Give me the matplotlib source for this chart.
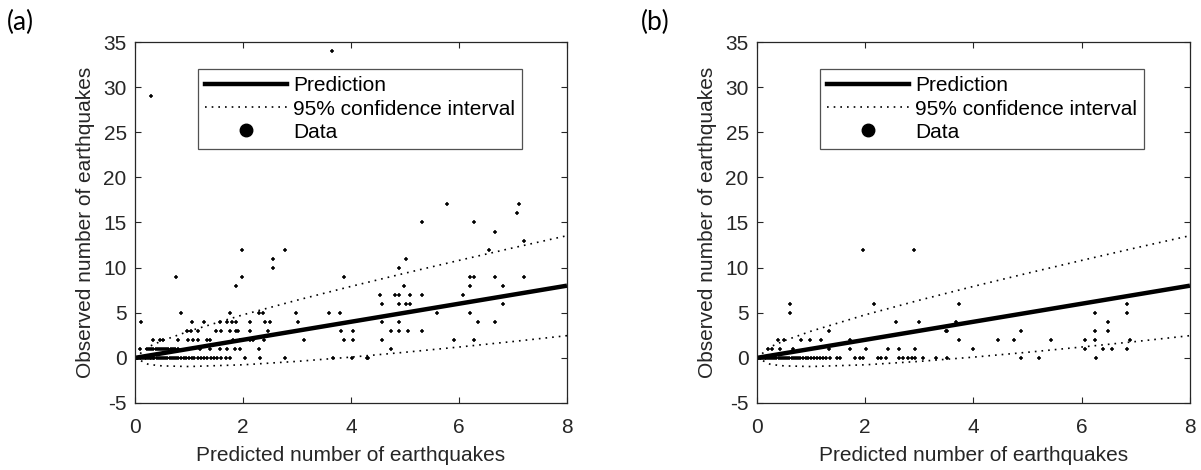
import matplotlib.pyplot as plt
from matplotlib.lines import Line2D

# ---- data ----
# panel (a): predicted vs observed counts
pred_a = [0.02, 0.04, 0.06, 0.09, 0.12, 0.15, 0.18, 0.21, 0.24, 0.27, 0.30, 0.33,
          0.36, 0.40, 0.44, 0.48, 0.52, 0.56, 0.60, 0.64, 0.68, 0.72, 0.76, 0.80,
          0.85, 0.90, 0.95, 1.00, 1.05, 1.10, 1.16, 1.22, 1.28, 1.34, 1.40, 1.46,
          1.52, 1.60, 1.68, 1.76, 2.04, 2.31, 2.78, 3.66, 4.01, 4.30, 4.32,
          0.09, 0.22, 0.26, 0.30, 0.34, 0.38, 0.42, 0.46, 0.50, 0.54, 0.58, 0.62,
          0.66, 0.70, 0.74, 0.80, 1.20, 1.39, 1.57, 1.70, 1.85, 1.94, 2.30, 4.74,
          0.33, 0.46, 0.51, 0.79, 0.99, 1.08, 1.17, 1.34, 1.39, 1.82, 1.94, 2.13,
          2.19, 2.38, 3.13, 3.87, 4.03, 4.57, 5.90, 6.27,
          0.96, 1.04, 1.17, 1.50, 1.60, 1.76, 1.87, 1.91, 2.13, 2.47, 3.81, 4.03,
          4.74, 4.89, 5.06, 5.31,
          0.12, 1.05, 1.28, 1.57, 1.70, 1.79, 1.87, 2.13, 2.41, 2.50, 3.02, 4.57,
          4.89, 6.35, 6.67,
          0.85, 1.76, 2.30, 2.37, 2.98, 3.60, 3.80, 5.59, 6.20,
          4.57, 4.89, 5.01, 5.10, 6.82,
          4.54, 4.81, 4.89, 5.09, 5.31, 6.08,
          4.99, 6.20, 6.82, 1.87,
          0.76, 1.98, 3.87, 6.20, 6.28, 6.67, 7.21,
          2.56, 4.89, 5.01, 2.56,
          1.98, 2.78, 6.55,
          7.21, 6.67, 5.31, 6.27, 7.07, 5.78, 7.11,
          0.30, 3.64]
obs_a = [0] * 47 + [1] * 24 + [2] * 20 + [3] * 16 + [4] * 15 + [5] * 9 + \
        [6] * 5 + [7] * 6 + [8] * 4 + [9] * 7 + [10] * 2 + [11] * 2 + \
        [12] * 3 + [13, 14, 15, 15, 16, 17, 17] + [29, 34]

# panel (b)
pred_b = [0.02, 0.05, 0.08, 0.11, 0.14, 0.17, 0.20, 0.24, 0.28, 0.32, 0.36, 0.40,
          0.44, 0.48, 0.52, 0.56, 0.60, 0.64, 0.68, 0.72, 0.76, 0.80, 0.85, 0.90,
          0.95, 1.00, 1.05, 1.10, 1.16, 1.22, 1.28, 1.35, 1.48, 1.53, 1.81, 1.90,
          1.96, 2.24, 2.30, 2.39, 2.63, 2.70, 2.79, 2.87, 2.92, 3.07, 3.30, 3.51,
          4.87, 5.21, 6.27,
          0.21, 0.27, 0.42, 0.67, 1.33, 1.72, 2.01, 2.42, 2.63, 2.92, 4.00, 6.07,
          6.39, 6.56, 6.83,
          0.39, 0.49, 0.81, 0.98, 1.18, 1.72, 3.73, 4.45, 4.74, 5.44, 6.07, 6.24,
          6.90,
          1.33, 3.50, 3.51, 4.87, 6.24, 6.49,
          2.56, 2.99, 3.68, 6.49,
          0.61, 6.24, 6.83,
          0.61, 2.16, 3.73, 6.83,
          1.96, 2.90]
obs_b = [0] * 51 + [1] * 15 + [2] * 13 + [3] * 6 + [4] * 4 + [5] * 3 + \
        [6] * 4 + [12] * 2

# fitted line and 95% interval
fit_x = [0, 8]
fit_y = [0, 8]
ci_x = [0.0, 0.25, 0.5, 1, 2, 3, 4, 5, 6, 7, 8]
ci_hi = [0.0, 1.23, 1.89, 2.96, 4.77, 6.39, 7.92, 9.38, 10.80, 12.19, 13.54]
ci_lo = [0.0, -0.73, -0.89, -0.96, -0.77, -0.39, 0.08, 0.62, 1.20, 1.81, 2.46]

plt.rcParams['font.family'] = ['Liberation Sans', 'DejaVu Sans']
plt.rcParams['axes.unicode_minus'] = False
ink = '#262626'

fig = plt.figure(figsize=(12.01, 4.70), dpi=100)
ax_a = fig.add_axes([0.1124, 0.1426, 0.3597, 0.768])
ax_b = fig.add_axes([0.6303, 0.1426, 0.3605, 0.768])

for ax, px, py, tag, tx in [(ax_a, pred_a, obs_a, '(a)', 0.006),
                            (ax_b, pred_b, obs_b, '(b)', 0.534)]:
    ax.plot(fit_x, fit_y, color='black', lw=3.2, solid_capstyle='butt')
    ax.plot(ci_x, ci_hi, color='black', lw=1.2, ls=(0, (1, 3)))
    ax.plot(ci_x, ci_lo, color='black', lw=1.2, ls=(0, (1, 3)))
    ax.plot(px, py, ls='none', marker='+', ms=3.5, mew=1.1, color='black')

    ax.set_xlim(0, 8)
    ax.set_ylim(-5, 35)
    ax.set_xticks([0, 2, 4, 6, 8])
    ax.set_yticks(range(-5, 36, 5))
    ax.tick_params(direction='in', top=True, right=True, length=4.5,
                   width=0.8, colors=ink, labelsize=15)
    ax.tick_params(axis='x', pad=11)
    ax.tick_params(axis='y', pad=6)
    for s in ax.spines.values():
        s.set_color(ink)
        s.set_linewidth(0.9)
    ax.set_xlabel('Predicted number of earthquakes', fontsize=15, color=ink,
                  labelpad=6)
    ax.set_ylabel('Observed number of earthquakes', fontsize=15, color=ink,
                  labelpad=6)

    handles = [Line2D([], [], color='black', lw=3.2),
               Line2D([], [], color='black', lw=1.2, ls=(0, (1, 3))),
               Line2D([], [], ls='none', marker='o', ms=9, color='black')]
    leg = ax.legend(handles, ['Prediction', '95% confidence interval', 'Data'],
                    loc='upper left', bbox_to_anchor=(0.146, 0.925),
                    borderaxespad=0, fontsize=15, frameon=True, fancybox=False,
                    edgecolor=ink, handlelength=3.9, handletextpad=0.3,
                    labelspacing=0.2, borderpad=0.35)
    leg.get_frame().set_linewidth(0.9)

    fig.text(tx, 0.952, tag, fontsize=19, family='Lato', va='center',
             ha='left')

fig.savefig('out.png', dpi=100)
